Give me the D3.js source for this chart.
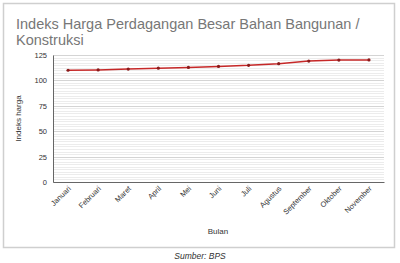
<!DOCTYPE html>
<html>
<head>
<meta charset="utf-8">
<script src="https://cdn.jsdelivr.net/npm/d3@7"></script>
<style>
  body { margin: 0; background: #fff; }
  svg { display: block; font-family: "Liberation Sans", Arial, sans-serif; }
</style>
</head>
<body>
<div id="chart"></div>
<script>
var bulan = ["Januari", "Februari", "Maret", "April", "Mei", "Juni", "Juli", "Agustus", "September", "Oktober", "November"];
var indeks = [110.0, 110.3, 111.1, 112.0, 112.8, 113.8, 114.8, 116.5, 119.0, 120.0, 120.2];
var yTicks = [0, 25, 50, 75, 100, 125];

var W = 400, H = 263;
var margin = {top: 55, right: 16, bottom: 81, left: 53};
var width = W - margin.left - margin.right,
    height = H - margin.top - margin.bottom;

var svg = d3.select("#chart").append("svg")
    .attr("width", W)
    .attr("height", H);

// card border
svg.append("rect")
    .attr("x", 3.5).attr("y", 3.5)
    .attr("width", 391).attr("height", 244)
    .attr("fill", "#fff")
    .attr("stroke", "#cfcfcf")
    .attr("stroke-width", 1.5);

svg.append("text")
    .attr("x", 16).attr("y", 29)
    .attr("fill", "#777")
    .style("font-size", "14.5px")
    .text("Indeks Harga Perdagangan Besar Bahan Bangunan /");
svg.append("text")
    .attr("x", 16).attr("y", 45)
    .attr("fill", "#777")
    .style("font-size", "14.5px")
    .text("Konstruksi");

var g = svg.append("g")
    .attr("transform", "translate(" + margin.left + "," + margin.top + ")");

var x = d3.scalePoint().domain(bulan).range([0, width]).padding(0.5);
var y = d3.scaleLinear().domain([0, 125]).range([height, 0]);

// minor grid
g.append("g")
  .selectAll("line")
  .data(d3.range(0, 125.01, 2.5))
  .join("line")
    .attr("x1", 0).attr("x2", width)
    .attr("y1", function(d) { return Math.round(y(d)) + 0.5; })
    .attr("y2", function(d) { return Math.round(y(d)) + 0.5; })
    .attr("stroke", "#ececec");

// major grid
g.append("g")
  .selectAll("line")
  .data(yTicks)
  .join("line")
    .attr("x1", 0).attr("x2", width)
    .attr("y1", function(d) { return Math.round(y(d)) + 0.5; })
    .attr("y2", function(d) { return Math.round(y(d)) + 0.5; })
    .attr("stroke", "#d4d4d4");

// axes
var yAxis = g.append("g")
    .call(d3.axisLeft(y).tickValues(yTicks).tickSize(0).tickPadding(6));
yAxis.select(".domain").attr("stroke", "#666");
yAxis.selectAll("text").attr("fill", "#333").style("font-size", "7.5px");

var xAxis = g.append("g")
    .attr("transform", "translate(0," + height + ")")
    .call(d3.axisBottom(x).tickSize(0));
xAxis.select(".domain").attr("stroke", "#666");
xAxis.selectAll("text")
    .attr("fill", "#333")
    .style("font-size", "7.5px")
    .attr("text-anchor", "end")
    .attr("y", 0)
    .attr("dx", "-3")
    .attr("dy", "7")
    .attr("transform", "rotate(-45)");

// line
var line = d3.line()
    .x(function(d, i) { return x(bulan[i]); })
    .y(function(d) { return y(d); });

g.append("path")
    .datum(indeks)
    .attr("fill", "none")
    .attr("stroke", "#c62828")
    .attr("stroke-width", 1.5)
    .attr("d", line);

g.selectAll("circle.pt")
  .data(indeks)
  .join("circle")
    .attr("class", "pt")
    .attr("cx", function(d, i) { return x(bulan[i]); })
    .attr("cy", function(d) { return y(d); })
    .attr("r", 1.6)
    .attr("fill", "#8b1a1a");

// axis titles
svg.append("text")
    .attr("transform", "translate(21," + (margin.top + height / 2) + ") rotate(-90)")
    .attr("text-anchor", "middle")
    .attr("fill", "#333")
    .style("font-size", "8px")
    .text("Indeks harga");

svg.append("text")
    .attr("x", 218).attr("y", 234)
    .attr("text-anchor", "middle")
    .attr("fill", "#333")
    .style("font-size", "8px")
    .text("Bulan");

svg.append("text")
    .attr("x", 200).attr("y", 259)
    .attr("text-anchor", "middle")
    .attr("fill", "#333")
    .style("font-size", "8.5px")
    .style("font-style", "italic")
    .text("Sumber: BPS");
</script>
</body>
</html>
